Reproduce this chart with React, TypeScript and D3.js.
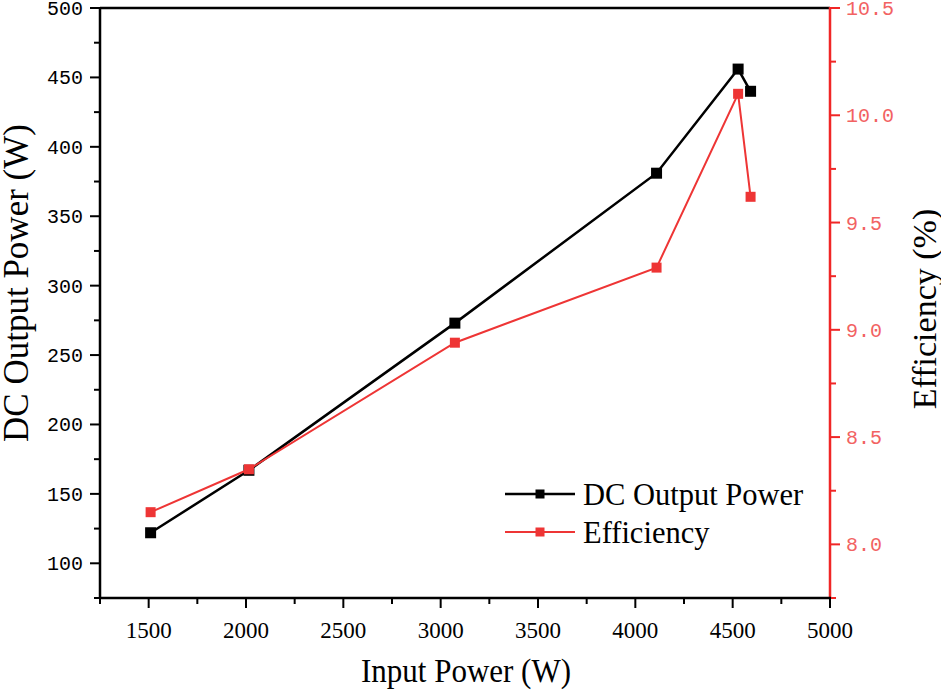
import React from "react";
import * as d3 from "d3";

const inputPower = [1510, 2015, 3073, 4109, 4528, 4592];
const dcOutputPower = [122, 167, 273, 381, 456, 440];
const efficiency = [8.15, 8.35, 8.94, 9.29, 10.1, 9.62];

const xTickValues = [1500, 2000, 2500, 3000, 3500, 4000, 4500, 5000];
const xMinorValues = [1250, 1750, 2250, 2750, 3250, 3750, 4250, 4750];
const leftTickValues = [100, 150, 200, 250, 300, 350, 400, 450, 500];
const leftMinorValues = [75, 125, 175, 225, 275, 325, 375, 425, 475];
const rightTickValues = [8.0, 8.5, 9.0, 9.5, 10.0, 10.5];
const rightMinorValues = [7.75, 8.25, 8.75, 9.25, 9.75, 10.25];

const seriesNames = ["DC Output Power", "Efficiency"];

const BLACK = "#000000";
const RED = "#ee3535";
const RED_AXIS = "#f02626";
const RED_TEXT = "#f26262";

export default function App() {
  const W = 941;
  const H = 690;
  const left = 100;
  const right = 830;
  const top = 8;
  const bottom = 598;

  const x = d3.scaleLinear().domain([1250, 5000]).range([left, right]);
  const yL = d3.scaleLinear().domain([75, 500]).range([bottom, top]);
  const yR = d3.scaleLinear().domain([7.75, 10.5]).range([bottom, top]);

  const dcData = inputPower.map((p, i) => [p, dcOutputPower[i]] as [number, number]);
  const effData = inputPower.map((p, i) => [p, efficiency[i]] as [number, number]);

  const dcLine = d3
    .line<[number, number]>()
    .x((d) => x(d[0]))
    .y((d) => yL(d[1]))(dcData) as string;
  const effLine = d3
    .line<[number, number]>()
    .x((d) => x(d[0]))
    .y((d) => yR(d[1]))(effData) as string;

  const mono = "'Liberation Mono', 'DejaVu Sans Mono', monospace";
  const serif = "'Liberation Serif', 'Times New Roman', serif";

  const legendX = 505;
  const legendY = [494, 532];

  return (
    <svg
      width={W}
      height={H}
      style={{ position: "absolute", left: 0, top: 0, background: "#fff" }}
      xmlns="http://www.w3.org/2000/svg"
    >
      <rect x={0} y={0} width={W} height={H} fill="#fff" />

      {/* top frame */}
      <line x1={left} x2={right} y1={top} y2={top} stroke={BLACK} strokeWidth={2.5} />

      {/* left axis */}
      <line x1={left} x2={left} y1={top - 1} y2={bottom + 1} stroke={BLACK} strokeWidth={2.5} />
      {leftTickValues.map((v) => (
        <g key={"lt" + v}>
          <line x1={left - 10} x2={left} y1={yL(v)} y2={yL(v)} stroke={BLACK} strokeWidth={2} />
          <text
            x={left - 17}
            y={yL(v) + 7}
            textAnchor="end"
            fontFamily={mono}
            fontSize={20}
            fill={BLACK}
          >
            {v}
          </text>
        </g>
      ))}
      {leftMinorValues.map((v) => (
        <line key={"lm" + v} x1={left - 6} x2={left} y1={yL(v)} y2={yL(v)} stroke={BLACK} strokeWidth={2} />
      ))}

      {/* right axis */}
      <line x1={right} x2={right} y1={top - 1} y2={bottom + 1} stroke={RED_AXIS} strokeWidth={2.5} />
      {rightTickValues.map((v) => (
        <g key={"rt" + v}>
          <line x1={right} x2={right + 10} y1={yR(v)} y2={yR(v)} stroke={RED_AXIS} strokeWidth={2} />
          <text
            x={right + 16}
            y={yR(v) + 7}
            textAnchor="start"
            fontFamily={mono}
            fontSize={20}
            fill={RED_TEXT}
          >
            {v.toFixed(1)}
          </text>
        </g>
      ))}
      {rightMinorValues.map((v) => (
        <line key={"rm" + v} x1={right} x2={right + 6} y1={yR(v)} y2={yR(v)} stroke={RED_AXIS} strokeWidth={2} />
      ))}

      {/* bottom axis */}
      <line x1={left - 1} x2={right + 1} y1={bottom} y2={bottom} stroke={BLACK} strokeWidth={2.5} />
      {xTickValues.map((v) => (
        <g key={"xt" + v}>
          <line x1={x(v)} x2={x(v)} y1={bottom} y2={bottom + 10} stroke={BLACK} strokeWidth={2} />
          <text
            x={x(v)}
            y={638}
            textAnchor="middle"
            fontFamily={serif}
            fontSize={23}
            fill={BLACK}
          >
            {v}
          </text>
        </g>
      ))}
      {xMinorValues.map((v) => (
        <line key={"xm" + v} x1={x(v)} x2={x(v)} y1={bottom} y2={bottom + 6} stroke={BLACK} strokeWidth={2} />
      ))}

      {/* axis titles */}
      <text
        transform={`translate(466,682) scale(1,1.08)`}
        textAnchor="middle"
        fontFamily={serif}
        fontSize={31}
        fill={BLACK}
      >
        Input Power (W)
      </text>
      <text
        transform={`translate(28,283) rotate(-90)`}
        textAnchor="middle"
        fontFamily={serif}
        fontSize={35}
        fill={BLACK}
      >
        DC Output Power (W)
      </text>
      <text
        transform={`translate(936,309) rotate(-90)`}
        textAnchor="middle"
        fontFamily={serif}
        fontSize={34}
        fill={BLACK}
      >
        Efficiency (%)
      </text>

      {/* series */}
      <path d={dcLine} fill="none" stroke={BLACK} strokeWidth={2.5} />
      {dcData.map((d, i) => (
        <rect key={"dc" + i} x={x(d[0]) - 5.5} y={yL(d[1]) - 5.5} width={11} height={11} fill={BLACK} />
      ))}
      <path d={effLine} fill="none" stroke={RED} strokeWidth={2} />
      {effData.map((d, i) => (
        <rect key={"ef" + i} x={x(d[0]) - 5} y={yR(d[1]) - 5} width={10} height={10} fill={RED} />
      ))}

      {/* legend */}
      {seriesNames.map((name, i) => {
        const c = i === 0 ? BLACK : RED;
        const y = legendY[i];
        return (
          <g key={"lg" + i}>
            <line x1={legendX} x2={legendX + 70} y1={y} y2={y} stroke={c} strokeWidth={i === 0 ? 2.5 : 2} />
            <rect x={legendX + 35 - 4.5} y={y - 4.5} width={9} height={9} fill={c} />
            <text x={583} y={y + 11} fontFamily={serif} fontSize={30.5} fill={BLACK}>
              {name}
            </text>
          </g>
        );
      })}
    </svg>
  );
}
